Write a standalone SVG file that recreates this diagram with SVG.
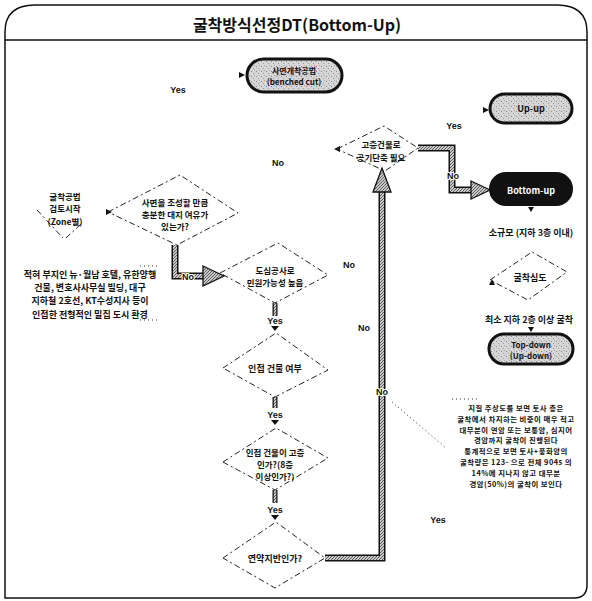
<svg xmlns="http://www.w3.org/2000/svg" width="592" height="601" viewBox="0 0 592 601">
<style>
.t{font-family:"Noto Sans CJK KR","Noto Sans",sans-serif;font-weight:bold;text-anchor:middle;dominant-baseline:central;fill:#111}
.s7{font-size:7.4px;letter-spacing:0.45px}.s8{font-size:8px}.s85{font-size:8.5px}.s9{font-size:9px}
.lbl{font-family:"Liberation Sans","Noto Sans",sans-serif;font-weight:bold;font-size:9px;text-anchor:middle;dominant-baseline:central;fill:#111}
.dia{fill:none;stroke:#222;stroke-width:1;stroke-dasharray:6 3 2 3}
.pill{fill:url(#speck);stroke:#111;stroke-width:3}
.bo{fill:none;stroke:#111;stroke-width:7}
.bi{fill:none;stroke:url(#hatch);stroke-width:4}
.sbo{fill:none;stroke:#111;stroke-width:5}
.sbi{fill:none;stroke:url(#hatch);stroke-width:2.5}
.ah{fill:url(#hatch);stroke:#111;stroke-width:1.3}
.sa{fill:#111}
.dot{fill:none;stroke:#333;stroke-width:1;stroke-dasharray:1 3}
</style>
<defs>
<pattern id="hatch" width="3" height="3" patternUnits="userSpaceOnUse"><rect width="3" height="3" fill="#c8c8c8"/><path d="M0,3L3,0" stroke="#444" stroke-width="0.8"/></pattern>
<pattern id="speck" width="5" height="5" patternUnits="userSpaceOnUse"><rect width="5" height="5" fill="#d6d6d6"/><rect x="1" y="1" width="1" height="1" fill="#888"/><rect x="3" y="3" width="1" height="1" fill="#999"/><rect x="4" y="0" width="1" height="1" fill="#aaa"/></pattern>
</defs>
<rect width="592" height="601" fill="#fff"/>
<g id="frame">
<path d="M5,598 V32 Q5,5 35,5 H557 Q587,5 587,32 V585 Q587,598 574,598 Z" fill="none" stroke="#111" stroke-width="1.5"/>
<line x1="5" y1="40" x2="587" y2="40" stroke="#111" stroke-width="1.5"/>
<text class="t" x="297" y="24" style="font-size:16px">굴착방식선정DT(Bottom-Up)</text>
</g>
<g id="connectors">
<path class="bo" d="M175,245 V276 H205"/><path class="bi" d="M175,245 V276 H205"/>
<polygon class="ah" points="203,266 224,276 203,286"/>
<path class="bo" d="M418,148 H452 V190 H472"/><path class="bi" d="M418,148 H452 V190 H472"/>
<polygon class="ah" points="471,181 490,190 471,199"/>
<path class="bo" d="M325,558 H382 V190"/><path class="bi" d="M325,558 H382 V190"/>
<polygon class="ah" points="373,192 382,168 391,192"/>
<path class="sbo" d="M275,303 V316"/><path class="sbi" d="M275,303 V316"/>
<path class="sbo" d="M275,397 V408"/><path class="sbi" d="M275,397 V408"/>
<path class="sbo" d="M275,490 V503"/><path class="sbi" d="M275,490 V503"/>
<polygon class="sa" points="271,326 279,326 275,331"/>
<polygon class="sa" points="271,420 279,420 275,425"/>
<polygon class="sa" points="271,515 279,515 275,520"/>
<polygon class="sa" points="239,72 245,75 239,78"/>
<polygon class="sa" points="483,107 489,110 483,113"/>
<polygon class="sa" points="340,146 334,149 340,152"/>
<polygon class="sa" points="106,209 112,212 106,215"/>
<polygon class="sa" points="528,207 534,207 531,212"/>
<polygon class="sa" points="489,285 495,285 492,279"/>
<polygon class="sa" points="528,327 534,327 531,332"/>
<text class="lbl" x="188" y="277" style="paint-order:stroke;stroke:#fff;stroke-width:2">No</text>
<text class="lbl" x="453" y="176" style="paint-order:stroke;stroke:#fff;stroke-width:2">No</text>
<text class="lbl" x="382" y="392" style="paint-order:stroke;stroke:#fff;stroke-width:2">No</text>
<text class="lbl" x="275" y="321">Yes</text>
<text class="lbl" x="275" y="415">Yes</text>
<text class="lbl" x="275" y="510">Yes</text>
<text class="lbl" x="178" y="90">Yes</text>
<text class="lbl" x="454" y="126">Yes</text>
<text class="lbl" x="438" y="520">Yes</text>
<text class="lbl" x="278" y="163">No</text>
<text class="lbl" x="349" y="265">No</text>
<text class="lbl" x="364" y="328">No</text>
<path class="dot" d="M392,402 L446,448"/>
<path class="dot" d="M452,399 H478"/>
<path class="dot" d="M140,266 H158"/>
<path class="dot" d="M140,320 H158"/>
</g>
<g id="start">
<path class="dia" d="M37,210 L63,238 M66,238 L81,224"/>
<text class="t s85"><tspan x="65" y="196">굴착공법</tspan><tspan x="65" y="208.4">검토시작</tspan><tspan x="65" y="220.8">(Zone별)</tspan></text>
</g>
<g id="benched">
<rect class="pill" x="247" y="59" width="95" height="33" rx="16.5"/>
<text class="t s8"><tspan x="294" y="69.5">사면개착공법</tspan><tspan x="294" y="81.2">(benched cut)</tspan></text>
</g>
<g id="upup">
<rect class="pill" x="490" y="94" width="82" height="29" rx="14.5"/>
<text class="t s9" x="531" y="108">Up-up</text>
</g>
<g id="bottomup">
<rect x="490" y="173" width="82" height="32" rx="16" fill="#111" stroke="#111" stroke-width="2"/>
<text class="t s9" x="531" y="190" style="fill:#fff">Bottom-up</text>
</g>
<g id="topdown">
<rect class="pill" x="489" y="334" width="84" height="30" rx="15"/>
<text class="t s8"><tspan x="531" y="343.5">Top-down</tspan><tspan x="531" y="355.2">(Up-down)</tspan></text>
</g>
<g id="d-slope">
<polygon class="dia" points="108,212 180,175 238,213 177,245"/>
<text class="t s85"><tspan x="175" y="201.5">사면을 조성할 만큼</tspan><tspan x="175" y="213.9">충분한 대지 여유가</tspan><tspan x="175" y="226.3">있는가?</tspan></text>
</g>
<g id="d-urban">
<polygon class="dia" points="220,273 278,243 328,275 275,303"/>
<text class="t s85"><tspan x="275" y="270">도심공사로</tspan><tspan x="275" y="282.4">민원가능성 높음</tspan></text>
</g>
<g id="d-adj">
<polygon class="dia" points="223,368 276,333 328,370 275,397"/>
<text class="t s9" x="275" y="368">인접 건물 여부</text>
</g>
<g id="d-high">
<polygon class="dia" points="223,462 276,428 328,458 275,490"/>
<text class="t s85"><tspan x="275" y="451.5">인접 건물이 고층</tspan><tspan x="275" y="463.9">인가?(8층</tspan><tspan x="275" y="476.3">이상인가?)</tspan></text>
</g>
<g id="d-soft">
<polygon class="dia" points="223,558 276,522 325,558 275,588"/>
<text class="t s9" x="275" y="558">연약지반인가?</text>
</g>
<g id="d-period">
<polygon class="dia" points="337,149 384,126 418,148 385,171"/>
<text class="t s85"><tspan x="381" y="144">고층건물로</tspan><tspan x="381" y="156.6">공기단축 필요</tspan></text>
</g>
<g id="d-depth">
<polygon class="dia" points="490,280 532,252 567,272 528,300"/>
<text class="t s9" x="530" y="277">굴착심도</text>
</g>
<g id="notes">
<text class="t s9" x="531" y="232">소규모 (지하 3층 이내)</text>
<text class="t s9" x="529" y="319">최소 지하 2층 이상 굴착</text>
<text class="t s9"><tspan x="90" y="274">적혀 부지인 뉴·월남 호텔, 유한양행</tspan><tspan x="90" y="287.2">건물, 변호사사무실 빌딩, 대구</tspan><tspan x="90" y="300.4">지하철 2호선, KT수성지사 등이</tspan><tspan x="90" y="313.6">인접한 전형적인 밀집 도시 환경</tspan></text>
<text class="t s7"><tspan x="516" y="407">지질 주상도를 보면 토사 층은</tspan><tspan x="516" y="417.8">굴착에서 차지하는 비중이 매우 적고</tspan><tspan x="516" y="428.6">대부분이 연암 또는 보통암, 심지어</tspan><tspan x="516" y="439.4">경암까지 굴착이 진행된다</tspan><tspan x="516" y="450.2">통계적으로 보면 토사+풍화암의</tspan><tspan x="516" y="461">굴착량은 123- 으로 전체 904s 의</tspan><tspan x="516" y="471.8">14%에 지나지 않고 대부분</tspan><tspan x="516" y="482.6">경암(50%)의 굴착이 보인다</tspan></text>
</g>
</svg>
